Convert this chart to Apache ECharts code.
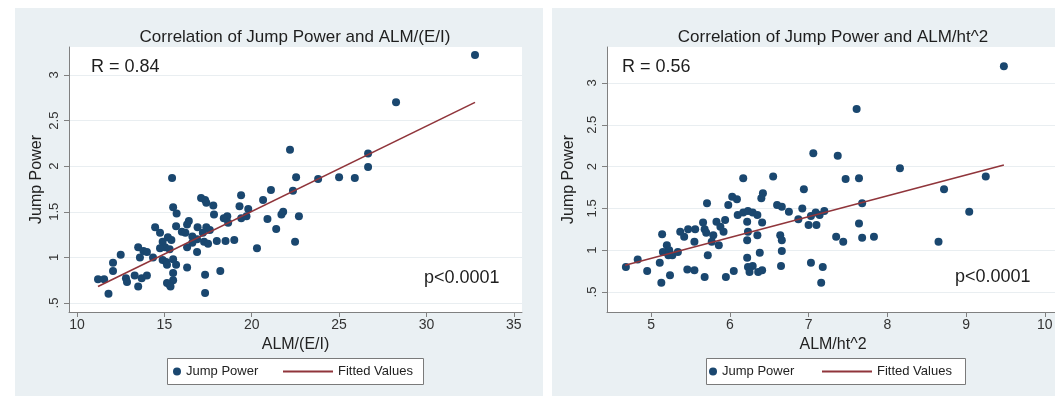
<!DOCTYPE html>
<html>
<head>
<meta charset="utf-8">
<script src="https://cdn.jsdelivr.net/npm/echarts@6/dist/echarts.min.js"></script>
<style>
  html, body { margin: 0; padding: 0; background: #fff; overflow: hidden; }
  #chart { width: 1080px; height: 396px; }
</style>
</head>
<body>
<div id="chart"></div>
<script>
// 左图: ALM/(E/I) vs Jump Power
let leftAlm = [32.78, 28.26, 22.19, 26.66, 26.66, 22.54, 23.8, 25.0, 25.9, 15.44,
  22.36, 21.1, 19.39, 17.1, 17.33, 20.65, 17.4, 17.8, 15.5, 15.7,
  19.3, 19.8, 21.8, 21.7, 22.7, 17.84, 18.6, 18.4, 19.4, 19.7,
  20.9, 21.4, 18.65, 16.4, 16.3, 15.67, 14.47, 16.9, 17.4, 17.6,
  17.2, 16.0, 16.2, 14.75, 15.2, 15.4, 16.6, 16.87, 16.6, 16.3,
  17.27, 17.5, 18.0, 18.5, 19.0, 22.48, 20.3, 16.87, 14.9, 15.04,
  14.75, 15.3, 13.5, 13.8, 14.0, 14.35, 13.6, 12.5, 12.06, 12.06,
  14.9, 15.1, 15.5, 15.67, 15.15, 16.3, 15.5, 15.5, 15.3, 15.15,
  15.35, 18.2, 17.33, 17.33, 12.8, 12.86, 13.3, 13.5, 13.7, 14.0,
  11.2, 11.55, 11.8]
let leftJump = [3.22, 2.70, 2.18, 2.14, 1.99, 1.88, 1.86, 1.88, 1.87, 1.87,
  1.73, 1.74, 1.68, 1.65, 1.63, 1.63, 1.60, 1.57, 1.55, 1.48,
  1.56, 1.53, 1.50, 1.47, 1.45, 1.47, 1.45, 1.43, 1.43, 1.45,
  1.42, 1.31, 1.38, 1.40, 1.36, 1.34, 1.33, 1.33, 1.33, 1.30,
  1.27, 1.28, 1.27, 1.27, 1.22, 1.19, 1.23, 1.20, 1.16, 1.11,
  1.17, 1.15, 1.18, 1.18, 1.19, 1.17, 1.10, 1.06, 1.17, 1.11,
  1.10, 1.09, 1.11, 1.07, 1.06, 1.00, 1.00, 1.03, 0.94, 0.85,
  0.97, 0.95, 0.98, 0.92, 0.92, 0.89, 0.83, 0.75, 0.70, 0.72,
  0.68, 0.85, 0.81, 0.61, 0.77, 0.73, 0.80, 0.68, 0.77, 0.80,
  0.76, 0.76, 0.60]
let leftFitX = [11.2, 32.78]
let leftFitY = [0.68, 2.70]

// 右图: ALM/ht^2 vs Jump Power
let rightAlm = [9.48, 7.61, 7.06, 7.37, 8.16, 7.47, 7.64, 9.25, 8.72, 6.94,
  6.17, 6.55, 6.42, 6.03, 6.09, 6.40, 5.71, 5.98, 6.60, 6.66,
  6.75, 6.92, 7.68, 9.04, 6.10, 6.17, 6.23, 6.29, 6.35, 6.22,
  6.41, 6.87, 7.0, 7.03, 7.09, 7.1, 7.14, 7.2, 7.64, 7.35,
  7.44, 7.68, 7.83, 8.65, 5.83, 5.66, 5.68, 5.70, 5.88, 5.92,
  5.94, 5.47, 5.56, 5.37, 5.42, 5.79, 5.77, 5.86, 5.55, 5.14,
  5.20, 5.15, 5.23, 5.27, 5.34, 5.22, 6.23, 6.22, 6.35, 6.64,
  6.66, 6.66, 6.38, 5.72, 6.22, 6.65, 7.03, 7.18, 7.16, 6.23,
  6.29, 6.25, 6.36, 6.41, 6.05, 5.95, 5.68, 5.55, 5.46, 5.24,
  5.13, 5.11, 4.95, 4.83, 4.68]
let rightJump = [3.20, 2.69, 2.16, 2.13, 1.98, 1.85, 1.86, 1.88, 1.73, 1.73,
  1.86, 1.88, 1.68, 1.64, 1.61, 1.62, 1.56, 1.54, 1.54, 1.52,
  1.46, 1.50, 1.56, 1.46, 1.42, 1.45, 1.47, 1.45, 1.42, 1.34,
  1.33, 1.37, 1.30, 1.41, 1.45, 1.30, 1.42, 1.47, 1.32, 1.16,
  1.10, 1.15, 1.16, 1.10, 1.34, 1.33, 1.25, 1.21, 1.28, 1.22,
  1.36, 1.25, 1.25, 1.22, 1.16, 1.18, 1.10, 1.06, 1.10, 1.19,
  1.06, 0.98, 1.00, 0.94, 0.98, 0.94, 1.22, 1.12, 1.18, 1.18,
  1.12, 0.99, 0.97, 0.94, 0.91, 0.81, 0.85, 0.80, 0.61, 0.80,
  0.81, 0.74, 0.74, 0.76, 0.75, 0.68, 0.68, 0.76, 0.77, 0.70,
  0.61, 0.85, 0.75, 0.89, 0.80]
let rightFitX = [4.67, 9.48]
let rightFitY = [0.82, 2.02]

let leftXTicks = [10, 15, 20, 25, 30, 35]
let rightXTicks = [5, 6, 7, 8, 9, 10]
let yTicks = [0.5, 1, 1.5, 2, 2.5, 3]

const zip = (a, b) => a.map((v, i) => [v, b[i]])

const navy = '#1a476f'
const maroon = '#90353b'
const panelBg = '#eaf0f3'
const axisGray = '#808080'
const fontFam = 'Liberation Sans, Arial, sans-serif'

const xAxisOf = (idx, min, max, ticks, name) => ({
  type: 'value', gridIndex: idx, min: min, max: max,
  name: name, nameLocation: 'middle', nameGap: 22,
  nameTextStyle: {color: '#222', fontSize: 16, fontFamily: fontFam},
  axisLine: {show: true, lineStyle: {color: axisGray, width: 1}},
  axisTick: {show: true, length: 5, customValues: ticks, lineStyle: {color: axisGray}},
  axisLabel: {customValues: ticks, margin: 6, color: '#333', fontSize: 14, fontFamily: fontFam},
  splitLine: {show: false}
})

const yAxisOf = (idx, min, max, gap) => ({
  type: 'value', gridIndex: idx, min: min, max: max,
  name: 'Jump Power', nameLocation: 'middle', nameGap: gap, nameRotate: 90,
  nameTextStyle: {color: '#222', fontSize: 16, fontFamily: fontFam},
  axisLine: {show: true, lineStyle: {color: axisGray, width: 1}},
  axisTick: {show: true, length: 5, customValues: yTicks, lineStyle: {color: axisGray}},
  axisLabel: {
    customValues: yTicks, rotate: 90, margin: 8, color: '#333', fontSize: 13, fontFamily: fontFam,
    formatter: v => (v === 0.5 ? '.5' : String(v))
  },
  splitLine: {show: true, customValues: yTicks, lineStyle: {color: '#e9eef1', width: 1}}
})

const txt = (x, y, text, size, align) => ({
  type: 'text', x: x, y: y, z: 10,
  style: {text: text, fill: '#1e1e1e', fontSize: size, fontFamily: fontFam,
    align: align || 'left', verticalAlign: 'middle'}
})

// 图例: 点和线分开放, 这样圆点不会被拉宽
const legendOf = (name, left, width, height, icon) => ({
  data: [icon ? {name: name, icon: icon} : name],
  left: left, top: 365, padding: 0,
  itemWidth: width, itemHeight: height, selectedMode: false,
  textStyle: {color: '#222', fontSize: 13, fontFamily: fontFam}
})

let option = {
  animation: false,
  backgroundColor: '#fff',
  graphic: [
    {type: 'rect', shape: {x: 15, y: 8, width: 528, height: 400}, style: {fill: panelBg}, z: -10},
    {type: 'rect', shape: {x: 552, y: 8, width: 540, height: 400}, style: {fill: panelBg}, z: -10},
    {type: 'rect', shape: {x: 167.5, y: 358.5, width: 256, height: 26}, style: {fill: '#fff', stroke: '#7a7a7a', lineWidth: 1}, z: -5},
    {type: 'rect', shape: {x: 706.5, y: 358.5, width: 259, height: 26}, style: {fill: '#fff', stroke: '#7a7a7a', lineWidth: 1}, z: -5},
    txt(295, 37, 'Correlation of Jump Power and ALM/(E/I)', 17, 'center'),
    txt(833, 37, 'Correlation of Jump Power and ALM/ht^2', 17, 'center'),
    txt(91, 67, 'R = 0.84', 18),
    txt(424, 278, 'p<0.0001', 18),
    txt(622, 67, 'R = 0.56', 18),
    txt(955, 277, 'p<0.0001', 18)
  ],
  grid: [
    {left: 69, top: 47, width: 453, height: 265, show: true, backgroundColor: '#fff', borderWidth: 0},
    {left: 607, top: 47, width: 452, height: 265, show: true, backgroundColor: '#fff', borderWidth: 0}
  ],
  xAxis: [
    xAxisOf(0, 9.54, 35.47, leftXTicks, 'ALM/(E/I)'),
    xAxisOf(1, 4.44, 10.18, rightXTicks, 'ALM/ht^2')
  ],
  yAxis: [
    yAxisOf(0, 0.401, 3.307, 24),
    yAxisOf(1, 0.261, 3.43, 30)
  ],
  legend: [
    legendOf('Jump Power', 173, 8, 8),
    legendOf('Fitted Values', 283, 50, 2, 'rect'),
    legendOf('Jump Power', 709, 8, 8),
    legendOf('Fitted Values', 822, 50, 2, 'rect')
  ],
  series: [
    {
      name: 'Jump Power', type: 'scatter', xAxisIndex: 0, yAxisIndex: 0,
      data: zip(leftAlm, leftJump), symbolSize: 8,
      itemStyle: {color: navy, opacity: 1}
    },
    {
      name: 'Fitted Values', type: 'line', xAxisIndex: 0, yAxisIndex: 0,
      data: zip(leftFitX, leftFitY), symbol: 'none',
      lineStyle: {color: maroon, width: 1.6}, itemStyle: {color: maroon}, z: 3
    },
    {
      name: 'Jump Power', type: 'scatter', xAxisIndex: 1, yAxisIndex: 1,
      data: zip(rightAlm, rightJump), symbolSize: 8,
      itemStyle: {color: navy, opacity: 1}
    },
    {
      name: 'Fitted Values', type: 'line', xAxisIndex: 1, yAxisIndex: 1,
      data: zip(rightFitX, rightFitY), symbol: 'none',
      lineStyle: {color: maroon, width: 1.6}, itemStyle: {color: maroon}, z: 3
    }
  ]
}

let chart = echarts.init(document.getElementById('chart'))
chart.setOption(option)
</script>
</body>
</html>
